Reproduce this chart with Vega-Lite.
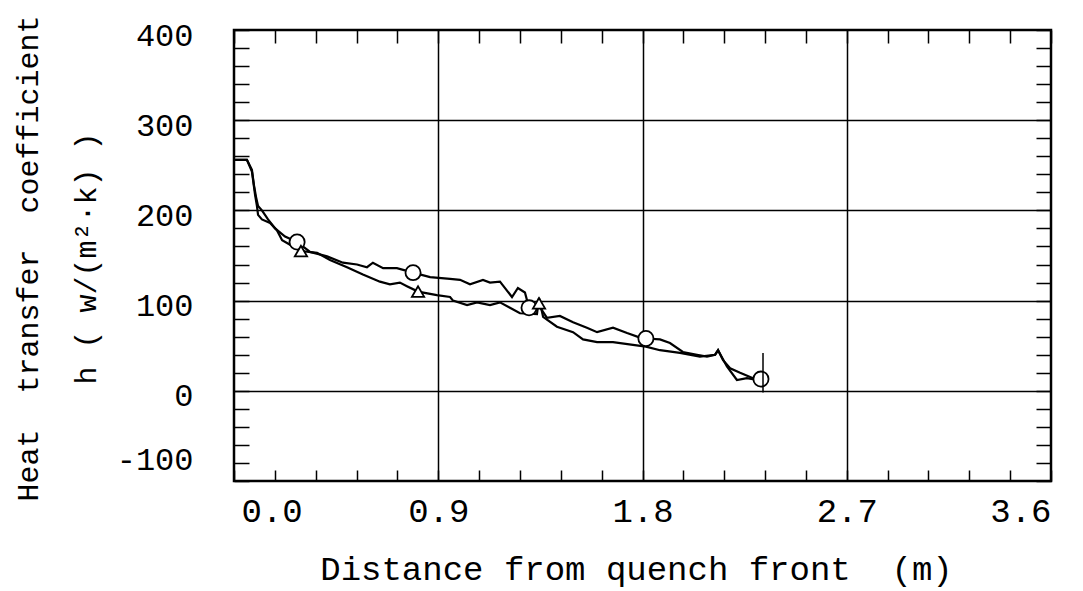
{
  "$schema": "https://vega.github.io/schema/vega-lite/v6.json",
  "autosize": {"type": "none"},
  "width": 817,
  "height": 451,
  "padding": {"left": 234, "top": 30, "right": 32, "bottom": 110},
  "background": "white",
  "config": {
    "view": {"stroke": "black", "strokeWidth": 2.5},
    "font": "Liberation Mono",
    "axis": {
      "domain": false,
      "labelFont": "Liberation Mono",
      "titleFont": "Liberation Mono",
      "labelColor": "black",
      "titleColor": "black",
      "tickColor": "black",
      "gridColor": "black",
      "titleFontWeight": "normal"
    }
  },
  "datasets": {
    "curves": [
      {"s": "C", "x": 0.005, "h": 256}, {"s": "C", "x": 0.057, "h": 256}, {"s": "C", "x": 0.079, "h": 245}, {"s": "C", "x": 0.088, "h": 228},
      {"s": "C", "x": 0.097, "h": 215}, {"s": "C", "x": 0.106, "h": 205}, {"s": "C", "x": 0.123, "h": 200}, {"s": "C", "x": 0.15, "h": 190},
      {"s": "C", "x": 0.181, "h": 180}, {"s": "C", "x": 0.225, "h": 171}, {"s": "C", "x": 0.278, "h": 165}, {"s": "C", "x": 0.335, "h": 154},
      {"s": "C", "x": 0.41, "h": 149}, {"s": "C", "x": 0.48, "h": 142}, {"s": "C", "x": 0.542, "h": 140}, {"s": "C", "x": 0.586, "h": 137},
      {"s": "C", "x": 0.612, "h": 142}, {"s": "C", "x": 0.657, "h": 136}, {"s": "C", "x": 0.718, "h": 136}, {"s": "C", "x": 0.789, "h": 131},
      {"s": "C", "x": 0.864, "h": 126}, {"s": "C", "x": 0.952, "h": 124}, {"s": "C", "x": 0.996, "h": 123}, {"s": "C", "x": 1.04, "h": 118},
      {"s": "C", "x": 1.097, "h": 123}, {"s": "C", "x": 1.128, "h": 120}, {"s": "C", "x": 1.172, "h": 121}, {"s": "C", "x": 1.225, "h": 104},
      {"s": "C", "x": 1.251, "h": 114}, {"s": "C", "x": 1.282, "h": 109}, {"s": "C", "x": 1.3, "h": 92}, {"s": "C", "x": 1.35, "h": 92},
      {"s": "C", "x": 1.379, "h": 81}, {"s": "C", "x": 1.436, "h": 83}, {"s": "C", "x": 1.494, "h": 76}, {"s": "C", "x": 1.555, "h": 70},
      {"s": "C", "x": 1.6, "h": 65}, {"s": "C", "x": 1.67, "h": 70}, {"s": "C", "x": 1.732, "h": 64}, {"s": "C", "x": 1.789, "h": 59},
      {"s": "C", "x": 1.815, "h": 58}, {"s": "C", "x": 1.877, "h": 57}, {"s": "C", "x": 1.921, "h": 53}, {"s": "C", "x": 1.978, "h": 43},
      {"s": "C", "x": 2.04, "h": 40}, {"s": "C", "x": 2.084, "h": 38}, {"s": "C", "x": 2.12, "h": 40}, {"s": "C", "x": 2.133, "h": 45},
      {"s": "C", "x": 2.155, "h": 34}, {"s": "C", "x": 2.186, "h": 25}, {"s": "C", "x": 2.23, "h": 20}, {"s": "C", "x": 2.287, "h": 14},
      {"s": "C", "x": 2.322, "h": 13},
      {"s": "T", "x": 0.005, "h": 256}, {"s": "T", "x": 0.057, "h": 256}, {"s": "T", "x": 0.079, "h": 243}, {"s": "T", "x": 0.093, "h": 217},
      {"s": "T", "x": 0.101, "h": 205}, {"s": "T", "x": 0.106, "h": 195}, {"s": "T", "x": 0.123, "h": 190}, {"s": "T", "x": 0.159, "h": 186},
      {"s": "T", "x": 0.189, "h": 178}, {"s": "T", "x": 0.212, "h": 167}, {"s": "T", "x": 0.247, "h": 162}, {"s": "T", "x": 0.295, "h": 155},
      {"s": "T", "x": 0.366, "h": 153}, {"s": "T", "x": 0.423, "h": 145}, {"s": "T", "x": 0.498, "h": 137}, {"s": "T", "x": 0.568, "h": 129},
      {"s": "T", "x": 0.643, "h": 121}, {"s": "T", "x": 0.687, "h": 118}, {"s": "T", "x": 0.731, "h": 120}, {"s": "T", "x": 0.762, "h": 116},
      {"s": "T", "x": 0.811, "h": 110}, {"s": "T", "x": 0.894, "h": 106}, {"s": "T", "x": 0.952, "h": 104}, {"s": "T", "x": 0.965, "h": 100},
      {"s": "T", "x": 1.027, "h": 95}, {"s": "T", "x": 1.071, "h": 98}, {"s": "T", "x": 1.128, "h": 95}, {"s": "T", "x": 1.172, "h": 98},
      {"s": "T", "x": 1.216, "h": 92}, {"s": "T", "x": 1.26, "h": 86}, {"s": "T", "x": 1.335, "h": 85}, {"s": "T", "x": 1.344, "h": 103},
      {"s": "T", "x": 1.362, "h": 82}, {"s": "T", "x": 1.423, "h": 71}, {"s": "T", "x": 1.494, "h": 65}, {"s": "T", "x": 1.538, "h": 57},
      {"s": "T", "x": 1.6, "h": 54}, {"s": "T", "x": 1.67, "h": 54}, {"s": "T", "x": 1.758, "h": 51}, {"s": "T", "x": 1.815, "h": 49},
      {"s": "T", "x": 1.877, "h": 45}, {"s": "T", "x": 1.965, "h": 42}, {"s": "T", "x": 2.053, "h": 38}, {"s": "T", "x": 2.12, "h": 40},
      {"s": "T", "x": 2.133, "h": 45}, {"s": "T", "x": 2.172, "h": 27}, {"s": "T", "x": 2.216, "h": 12}, {"s": "T", "x": 2.26, "h": 14},
      {"s": "T", "x": 2.304, "h": 12}, {"s": "T", "x": 2.322, "h": 13}
    ],
    "markers": [
      {"m": "circle", "x": 0.278, "h": 165}, {"m": "circle", "x": 0.789, "h": 131}, {"m": "circle", "x": 1.3, "h": 92},
      {"m": "circle", "x": 1.815, "h": 58}, {"m": "circle", "x": 2.322, "h": 13},
      {"m": "triangle", "x": 0.295, "h": 155}, {"m": "triangle", "x": 0.811, "h": 110}, {"m": "triangle", "x": 1.344, "h": 97}
    ],
    "endbar": [{"x": 2.331, "lo": -2, "hi": 42}]
  },
  "layer": [
    {
      "data": {"name": "curves"},
      "mark": {"type": "line", "color": "black", "strokeWidth": 2.2},
      "encoding": {
        "x": {
          "field": "x", "type": "quantitative",
          "scale": {"domain": [0, 3.6], "nice": false, "zero": false},
          "axis": {
            "orient": "bottom",
            "title": "Distance from quench front\u00a0\u00a0(m)",
            "titleFontSize": 34,
            "titleBaseline": "alphabetic",
            "titleY": 98,
            "titleX": 402,
            "values": [0, 0.18, 0.36, 0.54, 0.72, 0.9, 1.08, 1.26, 1.44, 1.62, 1.8, 1.98, 2.16, 2.34, 2.52, 2.7, 2.88, 3.06, 3.24, 3.42, 3.6],
            "labelExpr": "indexof([0, 0.9, 1.8, 2.7, 3.6], datum.value) >= 0 ? format(datum.value, '.1f') : ''",
            "labelFontSize": 34,
            "labelPadding": 24,
            "labelOffset": {"condition": {"test": "datum.value === 0", "value": 7}, "value": 0},
            "tickSize": -11,
            "tickWidth": 1.5,
            "grid": true,
            "gridWidth": 1.5,
            "gridOpacity": {"condition": {"test": "indexof([0.9, 1.8, 2.7], datum.value) >= 0", "value": 1}, "value": 0}
          }
        },
        "y": {
          "field": "h", "type": "quantitative",
          "scale": {"domain": [-100, 400], "nice": false, "zero": false},
          "axis": {
            "orient": "left",
            "title": ["Heat\u00a0\u00a0transfer\u00a0\u00a0coefficient", "h\u00a0(\u00a0w/(m²·k)\u00a0)"],
            "titleFontSize": 30,
            "titleLineHeight": 58,
            "titleAngle": -90,
            "titleAlign": "center",
            "titleBaseline": "alphabetic",
            "titleX": -197,
            "titleY": 228,
            "values": [-100, -80, -60, -40, -20, 0, 20, 40, 60, 80, 100, 120, 140, 160, 180, 200, 220, 240, 260, 280, 300, 320, 340, 360, 380, 400],
            "labelExpr": "datum.value % 100 === 0 ? '' + datum.value : ''",
            "labelFontSize": 32,
            "labelPadding": 56,
            "labelOffset": {"condition": {"test": "datum.value === -100", "value": -22}, "value": 5},
            "tickSize": -15,
            "tickWidth": 1.5,
            "grid": true,
            "gridWidth": 1.5,
            "gridOpacity": {"condition": {"test": "indexof([0, 100, 200, 300], datum.value) >= 0", "value": 1}, "value": 0}
          }
        },
        "detail": {"field": "s", "type": "nominal"}
      }
    },
    {
      "data": {"name": "markers"},
      "mark": {"type": "point", "filled": true, "fill": "white", "stroke": "black", "strokeWidth": 1.8, "opacity": 1},
      "encoding": {
        "x": {
          "field": "x", "type": "quantitative",
          "axis": {
            "orient": "top", "title": null, "labels": false, "grid": false,
            "values": [0, 0.18, 0.36, 0.54, 0.72, 0.9, 1.08, 1.26, 1.44, 1.62, 1.8, 1.98, 2.16, 2.34, 2.52, 2.7, 2.88, 3.06, 3.24, 3.42, 3.6],
            "tickSize": -13, "tickWidth": 1.5
          }
        },
        "y": {
          "field": "h", "type": "quantitative",
          "axis": {
            "orient": "right", "title": null, "labels": false, "grid": false,
            "values": [-100, -80, -60, -40, -20, 0, 20, 40, 60, 80, 100, 120, 140, 160, 180, 200, 220, 240, 260, 280, 300, 320, 340, 360, 380, 400],
            "tickSize": -15, "tickWidth": 1.5
          }
        },
        "shape": {
          "field": "m", "type": "nominal",
          "scale": {"domain": ["circle", "triangle"], "range": ["circle", "triangle-up"]},
          "legend": null
        },
        "size": {
          "field": "m", "type": "nominal",
          "scale": {"domain": ["circle", "triangle"], "range": [230, 150]},
          "legend": null
        }
      }
    },
    {
      "data": {"name": "endbar"},
      "mark": {"type": "rule", "color": "black", "strokeWidth": 1.5},
      "encoding": {
        "x": {"field": "x", "type": "quantitative", "axis": null},
        "y": {"field": "lo", "type": "quantitative", "axis": null},
        "y2": {"field": "hi"}
      }
    }
  ],
  "resolve": {"axis": {"x": "independent", "y": "independent"}}
}
